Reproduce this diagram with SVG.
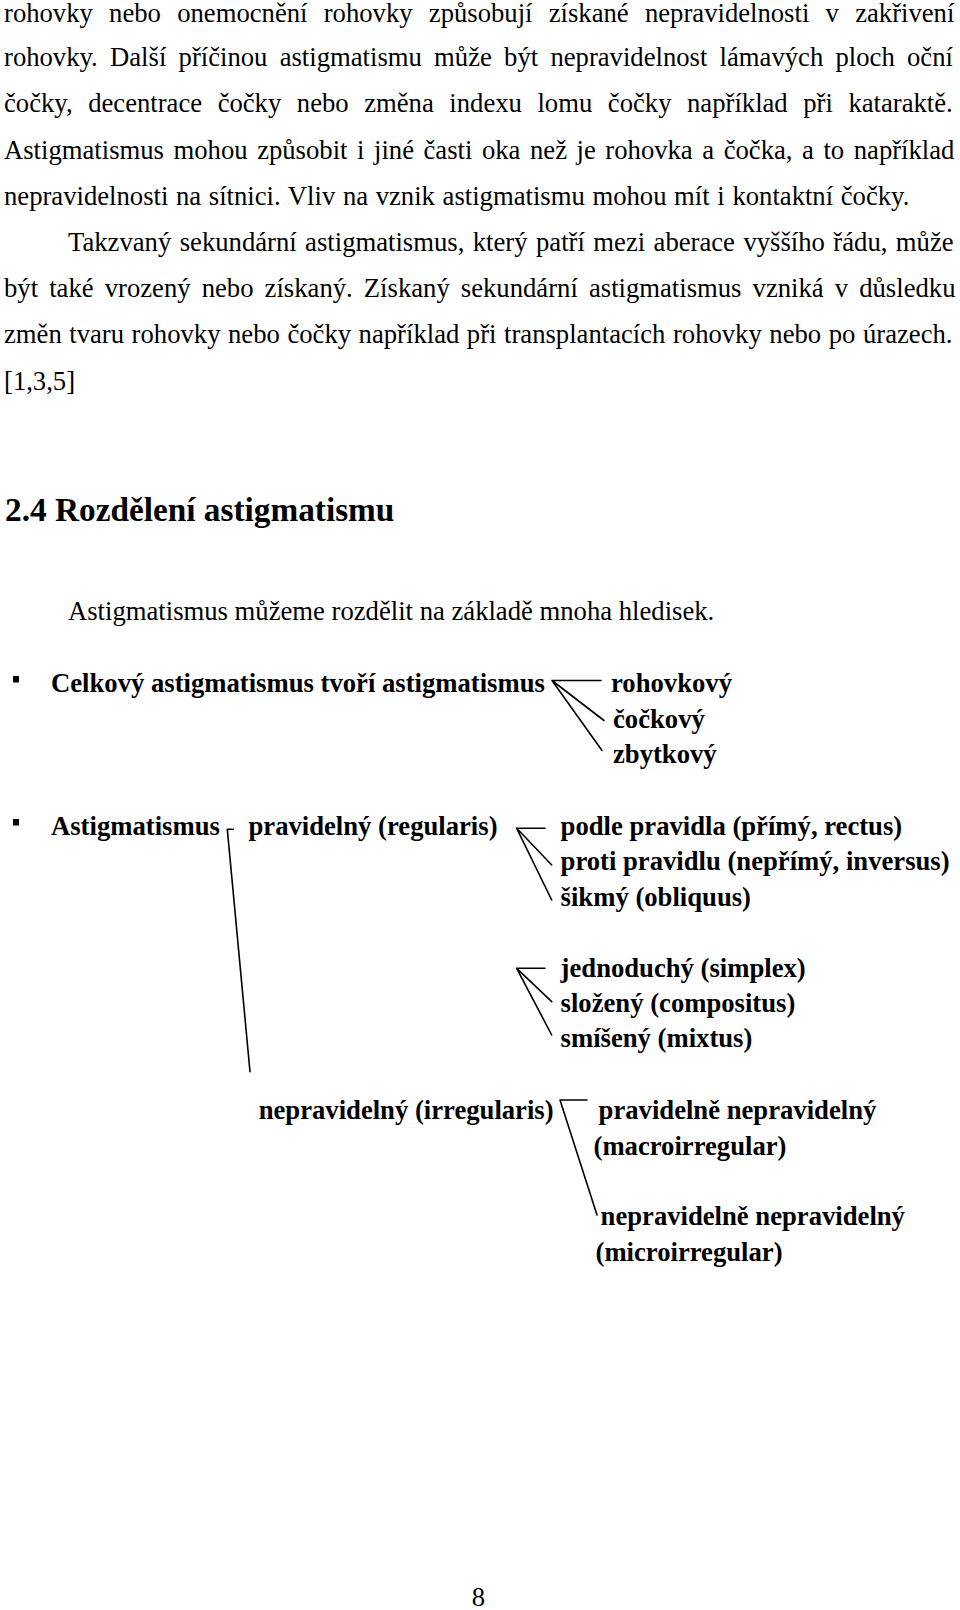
<svg xmlns="http://www.w3.org/2000/svg" width="960" height="1610" viewBox="0 0 960 1610">
<style>
text { font-family: "Liberation Serif", "Times New Roman", serif; font-size: 26.67px; fill: #000; }
.b { font-weight: bold; }
.h { font-weight: bold; font-size: 33.3px; }
.ln { stroke: #000; stroke-width: 1.6; fill: none; stroke-linecap: round; }
.bul { fill: #000; }
</style>
<rect x="0" y="0" width="960" height="1610" fill="#fff"/>
<g id="paragraph1">
<text x="4" y="21.5" word-spacing="9.6">rohovky nebo onemocnění rohovky způsobují získané nepravidelnosti v zakřivení</text>
<text x="4" y="66.2" word-spacing="5.6">rohovky. Další příčinou astigmatismu může být nepravidelnost lámavých ploch oční</text>
<text x="4" y="112.4" word-spacing="8.9">čočky, decentrace čočky nebo změna indexu lomu čočky například při kataraktě.</text>
<text x="4" y="158.6" word-spacing="2.9">Astigmatismus mohou způsobit i jiné časti oka než je rohovka a čočka, a to například</text>
<text x="4" y="204.8" word-spacing="1">nepravidelnosti na sítnici. Vliv na vznik astigmatismu mohou mít i kontaktní čočky.</text>
</g>
<g id="paragraph2">
<text x="68" y="251" word-spacing="1.8">Takzvaný sekundární astigmatismus, který patří mezi aberace vyššího řádu, může</text>
<text x="4" y="297.2" word-spacing="4.46">být také vrozený nebo získaný. Získaný sekundární astigmatismus vzniká v důsledku</text>
<text x="4" y="343.4" word-spacing="0.9">změn tvaru rohovky nebo čočky například při transplantacích rohovky nebo po úrazech.</text>
<text x="4" y="389.6">[1,3,5]</text>
</g>
<g id="heading">
<text class="h" x="5" y="521">2.4 Rozdělení astigmatismu</text>
</g>
<g id="intro">
<text x="68" y="620">Astigmatismus můžeme rozdělit na základě mnoha hledisek.</text>
</g>
<g id="connectors">
<path class="ln" d="M552,680.5 H601 M552,680.5 L604,720.5 M552,680.5 L602,750.5"/>
<path class="ln" d="M227.3,829.3 H233.3 M227.3,829.3 L250,1071.7"/>
<path class="ln" d="M516.7,828.3 H545 M516.7,828.3 L551.7,865 M516.7,828.3 L551.7,900"/>
<path class="ln" d="M516.7,968.3 H545 M516.7,968.3 L551.7,1001.7 M516.7,968.3 L551.7,1035"/>
<path class="ln" d="M560,1100 H587 M560,1100 L597,1215"/>
</g>
<g id="bullet1">
<rect class="bul" x="13" y="676" width="6" height="6.5"/>
<text class="b" x="51" y="692">Celkový astigmatismus tvoří astigmatismus</text>
</g>
<g id="rohovkovy"><text class="b" x="611" y="692">rohovkový</text></g>
<g id="ckovy"><text class="b" x="613" y="728">čočkový</text></g>
<g id="zbytkovy"><text class="b" x="613" y="763">zbytkový</text></g>
<g id="bullet2">
<rect class="bul" x="13" y="819" width="6" height="6.5"/>
<text class="b" x="51" y="835">Astigmatismus</text>
</g>
<g id="pravidelny"><text class="b" x="248.5" y="835">pravidelný (regularis)</text></g>
<g id="podle"><text class="b" x="560.6" y="835">podle pravidla (přímý, rectus)</text></g>
<g id="proti"><text class="b" x="560.6" y="870">proti pravidlu (nepřímý, inversus)</text></g>
<g id="sikmy"><text class="b" x="560.6" y="905.5">šikmý (obliquus)</text></g>
<g id="jednoduchy"><text class="b" x="560.6" y="976.5">jednoduchý (simplex)</text></g>
<g id="slozeny"><text class="b" x="560.6" y="1012">složený (compositus)</text></g>
<g id="smiseny"><text class="b" x="560.6" y="1047">smíšený (mixtus)</text></g>
<g id="nepravidelny"><text class="b" x="258.7" y="1119">nepravidelný (irregularis)</text></g>
<g id="macro">
<text class="b" x="598.6" y="1119">pravidelně nepravidelný</text>
<text class="b" x="593.5" y="1155">(macroirregular)</text>
</g>
<g id="micro">
<text class="b" x="600.6" y="1225">nepravidelně nepravidelný</text>
<text class="b" x="595.5" y="1261">(microirregular)</text>
</g>
<g id="pagenum"><text x="478.5" y="1606" text-anchor="middle">8</text></g>
</svg>
